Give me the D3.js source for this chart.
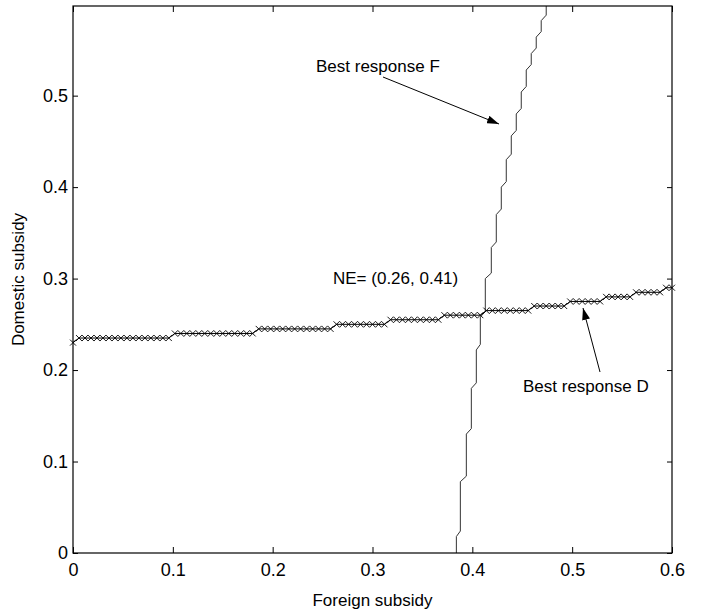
<!DOCTYPE html>
<html>
<head>
<meta charset="utf-8">
<script src="https://cdn.jsdelivr.net/npm/d3@7"></script>
<style>
  body { margin: 0; background: #fff; }
  svg { font-family: "Liberation Sans", Arial, sans-serif; }
</style>
</head>
<body>
<div id="chart"></div>
<script>
// best response of the domestic firm (x = foreign subsidy, y = domestic subsidy)
var dX = [0, 0.006, 0.012, 0.018, 0.024, 0.03, 0.036, 0.042, 0.048, 0.054, 0.06, 0.066, 0.072, 0.078, 0.084, 0.09, 0.096,
  0.102, 0.108, 0.114, 0.12, 0.126, 0.132, 0.138, 0.144, 0.15, 0.156, 0.162, 0.168, 0.174, 0.18,
  0.186, 0.192, 0.198, 0.204, 0.21, 0.216, 0.222, 0.228, 0.234, 0.24, 0.246, 0.252, 0.258,
  0.264, 0.27, 0.276, 0.282, 0.288, 0.294, 0.3, 0.306, 0.312,
  0.318, 0.324, 0.33, 0.336, 0.342, 0.348, 0.354, 0.36, 0.366,
  0.372, 0.378, 0.384, 0.39, 0.396, 0.402, 0.408,
  0.414, 0.42, 0.426, 0.432, 0.438, 0.444, 0.45, 0.456,
  0.462, 0.468, 0.474, 0.48, 0.486, 0.492,
  0.498, 0.504, 0.51, 0.516, 0.522, 0.528,
  0.534, 0.54, 0.546, 0.552, 0.558,
  0.564, 0.57, 0.576, 0.582, 0.588,
  0.594, 0.6];
var dY = [0.23, 0.235, 0.235, 0.235, 0.235, 0.235, 0.235, 0.235, 0.235, 0.235, 0.235, 0.235, 0.235, 0.235, 0.235, 0.235, 0.235,
  0.24, 0.24, 0.24, 0.24, 0.24, 0.24, 0.24, 0.24, 0.24, 0.24, 0.24, 0.24, 0.24, 0.24,
  0.245, 0.245, 0.245, 0.245, 0.245, 0.245, 0.245, 0.245, 0.245, 0.245, 0.245, 0.245, 0.245,
  0.25, 0.25, 0.25, 0.25, 0.25, 0.25, 0.25, 0.25, 0.25,
  0.255, 0.255, 0.255, 0.255, 0.255, 0.255, 0.255, 0.255, 0.255,
  0.26, 0.26, 0.26, 0.26, 0.26, 0.26, 0.26,
  0.265, 0.265, 0.265, 0.265, 0.265, 0.265, 0.265, 0.265,
  0.27, 0.27, 0.27, 0.27, 0.27, 0.27,
  0.275, 0.275, 0.275, 0.275, 0.275, 0.275,
  0.28, 0.28, 0.28, 0.28, 0.28,
  0.285, 0.285, 0.285, 0.285, 0.285,
  0.29, 0.29];

// best response of the foreign firm, corners of the staircase
var fX = [0.384, 0.384, 0.388, 0.388, 0.394, 0.394, 0.399, 0.399, 0.404, 0.404, 0.408, 0.408,
  0.413, 0.413, 0.419, 0.419, 0.424, 0.424, 0.429, 0.429, 0.434, 0.434, 0.439, 0.439,
  0.444, 0.444, 0.449, 0.449, 0.454, 0.454, 0.459, 0.459, 0.464, 0.464, 0.469, 0.469, 0.474, 0.474];
var fY = [0, 0.018, 0.024, 0.078, 0.084, 0.13, 0.136, 0.18, 0.186, 0.222, 0.228, 0.258,
  0.264, 0.3, 0.306, 0.334, 0.34, 0.37, 0.376, 0.4, 0.406, 0.43, 0.436, 0.456,
  0.462, 0.48, 0.486, 0.504, 0.51, 0.528, 0.534, 0.546, 0.552, 0.564, 0.57, 0.582, 0.588, 0.6];

var xTicks = [0, 0.1, 0.2, 0.3, 0.4, 0.5, 0.6];
var yTicks = [0, 0.1, 0.2, 0.3, 0.4, 0.5];

var width = 704, height = 615;
var margin = {top: 6, right: 32, bottom: 62, left: 73};

var svg = d3.select('#chart').append('svg')
  .attr('width', width).attr('height', height);
svg.append('rect').attr('width', width).attr('height', height).style('fill', '#fff');

var x = d3.scaleLinear().domain([0, 0.6]).range([margin.left, width - margin.right]);
var y = d3.scaleLinear().domain([0, 0.598]).range([height - margin.bottom, margin.top]);

var g = svg.append('g');

// clip so lines stop at the box
svg.append('clipPath').attr('id', 'clip').append('rect')
  .attr('x', margin.left).attr('y', margin.top)
  .attr('width', x(0.6) - margin.left).attr('height', y(0) - margin.top);

var plot = g.append('g').attr('clip-path', 'url(#clip)');

var fPts = fX.map(function(v, i){ return [v, fY[i]]; });
var dPts = dX.map(function(v, i){ return [v, dY[i]]; });
var line = d3.line().x(function(d){ return x(d[0]); }).y(function(d){ return y(d[1]); });

plot.append('path').datum(fPts).attr('d', line)
  .style('fill', 'none').style('stroke', '#333').style('stroke-width', 1);

plot.append('path').datum(dPts).attr('d', line)
  .style('fill', 'none').style('stroke', '#000').style('stroke-width', 1);

// x markers
var m = 3;
g.selectAll('path.mark').data(dPts).enter().append('path')
  .attr('class', 'mark')
  .attr('d', function(d){
    var cx = x(d[0]), cy = y(d[1]);
    return 'M' + (cx - m) + ',' + (cy - m) + 'L' + (cx + m) + ',' + (cy + m) +
      'M' + (cx - m) + ',' + (cy + m) + 'L' + (cx + m) + ',' + (cy - m);
  })
  .style('stroke', '#000').style('stroke-width', 0.9).style('fill', 'none');

// axes, ticks inward
var fmt = function(d){ return d === 0 ? '0' : d3.format('.1f')(d); };
var axB = g.append('g').attr('transform', 'translate(0,' + y(0) + ')')
  .call(d3.axisBottom(x).tickValues(xTicks).tickSizeInner(-6).tickSizeOuter(0).tickPadding(10).tickFormat(fmt));
var axT = g.append('g').attr('transform', 'translate(0,' + margin.top + ')')
  .call(d3.axisTop(x).tickValues(xTicks).tickSizeInner(-6).tickSizeOuter(0).tickFormat(''));
var axL = g.append('g').attr('transform', 'translate(' + margin.left + ',0)')
  .call(d3.axisLeft(y).tickValues(yTicks).tickSizeInner(-5).tickSizeOuter(0).tickPadding(5).tickFormat(fmt));
var axR = g.append('g').attr('transform', 'translate(' + x(0.6) + ',0)')
  .call(d3.axisRight(y).tickValues(yTicks).tickSizeInner(-5).tickSizeOuter(0).tickFormat(''));

[axB, axT, axL, axR].forEach(function(a){
  a.attr('font-family', null).attr('font-size', null);
  a.selectAll('.domain').remove();
  a.selectAll('line').style('stroke', '#000');
  a.selectAll('text').style('font-size', '18px').style('fill', '#000');
});

g.append('rect')
  .attr('x', margin.left).attr('y', margin.top)
  .attr('width', x(0.6) - margin.left).attr('height', y(0) - margin.top)
  .style('fill', 'none').style('stroke', '#000').style('stroke-width', 1.2);

// axis titles
g.append('text').attr('x', (x(0) + x(0.6)) / 2).attr('y', 606)
  .attr('text-anchor', 'middle').style('font-size', '17px').text('Foreign subsidy');
g.append('text').attr('transform', 'translate(24,' + ((y(0) + margin.top) / 2) + ') rotate(-90)')
  .attr('text-anchor', 'middle').style('font-size', '17px').text('Domestic subsidy');

// annotations
svg.append('defs').append('marker').attr('id', 'head')
  .attr('viewBox', '0 0 12 8').attr('refX', 12).attr('refY', 4)
  .attr('markerWidth', 12).attr('markerHeight', 8).attr('markerUnits', 'userSpaceOnUse')
  .attr('orient', 'auto')
  .append('path').attr('d', 'M0,0L12,4L0,8Z').style('fill', '#000');

function note(txt, tx, ty, x1, y1, x2, y2){
  g.append('text').attr('x', tx).attr('y', ty).style('font-size', '17px').text(txt);
  if (x1 != null) {
    g.append('line').attr('x1', x1).attr('y1', y1).attr('x2', x2).attr('y2', y2)
      .style('stroke', '#000').style('stroke-width', 1).attr('marker-end', 'url(#head)');
  }
}
note('Best response F', 316, 72, 383, 77, 499, 124);
note('NE= (0.26, 0.41)', 333, 284);
note('Best response D', 523, 392, 600, 372, 583, 308);
</script>
</body>
</html>
